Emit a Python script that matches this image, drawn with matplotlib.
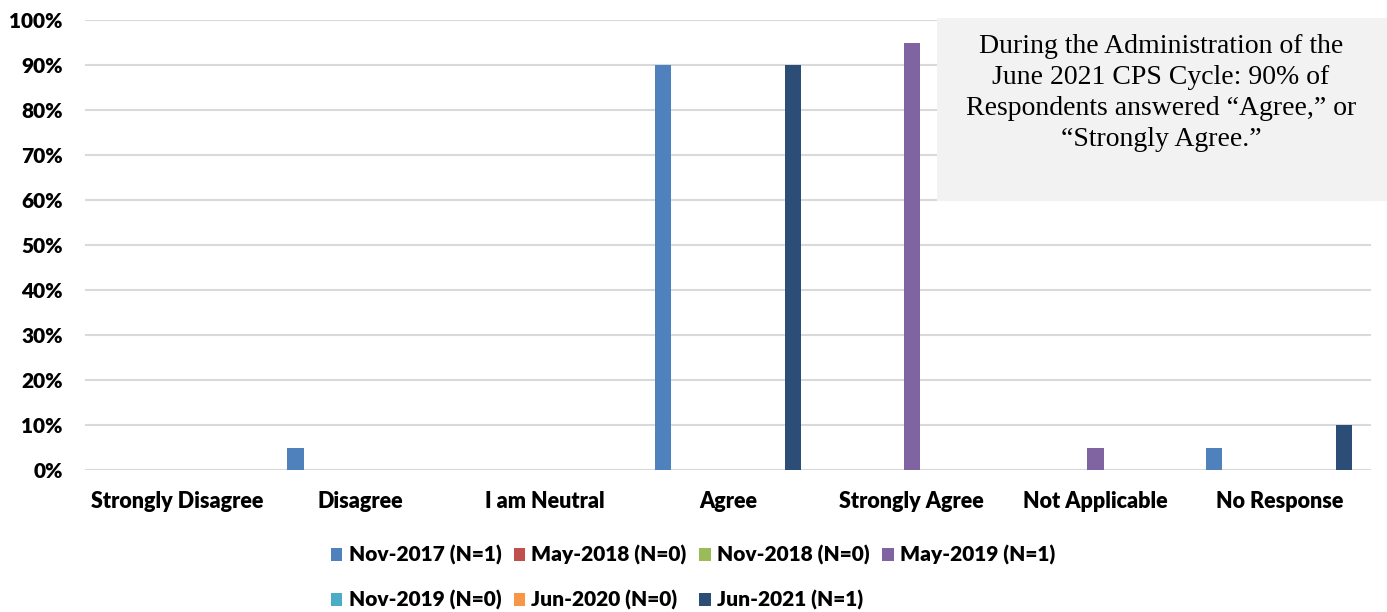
import matplotlib.pyplot as plt
import numpy as np
from matplotlib.patches import Rectangle

plt.rcParams["font.family"] = ["Lato", "DejaVu Sans"]

categories = ["Strongly Disagree", "Disagree", "I am Neutral", "Agree",
              "Strongly Agree", "Not Applicable", "No Response"]
series_names = ["Nov-2017 (N=1)", "May-2018 (N=0)", "Nov-2018 (N=0)", "May-2019 (N=1)",
                "Nov-2019 (N=0)", "Jun-2020 (N=0)", "Jun-2021 (N=1)"]
nov_2017 = [0, 5, 0, 90, 0, 0, 5]
may_2018 = [0, 0, 0, 0, 0, 0, 0]
nov_2018 = [0, 0, 0, 0, 0, 0, 0]
may_2019 = [0, 0, 0, 0, 95, 5, 0]
nov_2019 = [0, 0, 0, 0, 0, 0, 0]
jun_2020 = [0, 0, 0, 0, 0, 0, 0]
jun_2021 = [0, 0, 0, 90, 0, 0, 10]
yticks = [0, 10, 20, 30, 40, 50, 60, 70, 80, 90, 100]

all_series = [nov_2017, may_2018, nov_2018, may_2019, nov_2019, jun_2020, jun_2021]
colors = ["#4F81BD", "#C0504D", "#9BBB59", "#8064A2", "#4BACC6", "#F79646", "#2C4D75"]

fig = plt.figure(figsize=(13.87, 6.12), dpi=100)
ax = fig.add_axes([0.0613, 0.232, 0.9272, 0.735])

x = np.arange(len(categories))
slot = 0.118
handles = []
for i, (vals, name, col) in enumerate(zip(all_series, series_names, colors)):
    b = ax.bar(x + (i - 3) * slot, vals, width=0.088, color=col, label=name, zorder=3)
    handles.append(b)

ax.set_xlim(-0.5, len(categories) - 0.5)
ax.set_ylim(0, 100)
ax.set_yticks(yticks)
ax.set_yticklabels([f"{v}%" for v in yticks], fontsize=15, fontweight="heavy")
ax.set_xticks(x)
ax.set_xticklabels(categories, fontsize=15.5, fontweight="heavy")
ax.tick_params(axis="both", length=0)
ax.tick_params(axis="y", pad=16)
ax.tick_params(axis="x", pad=15)
ax.grid(axis="y", color="#d9d9d9", linewidth=1.5, zorder=0)
for s in ax.spines.values():
    s.set_visible(False)

# legend filled row by row
order = [0, 4, 1, 5, 2, 6, 3]
leg = fig.legend([handles[i] for i in order], [series_names[i] for i in order],
                 ncol=4, loc="upper left", bbox_to_anchor=(0.225, 0.14),
                 frameon=False, prop={"size": 15, "weight": "heavy"},
                 handlelength=0.55, handleheight=0.55, handletextpad=0.3,
                 columnspacing=0.6, labelspacing=1.2)

# annotation box
fig.patches.append(Rectangle((937 / 1387, 1 - 201 / 612), 450 / 1387, 183 / 612,
                             transform=fig.transFigure, facecolor="#f2f2f2",
                             edgecolor="none", zorder=5))
fig.text(1161 / 1387, 1 - 93 / 612,
         "During the Administration of the\nJune 2021 CPS Cycle: 90% of\n"
         "Respondents answered \u201cAgree,\u201d or\n\u201cStrongly Agree.\u201d",
         ha="center", va="center", fontsize=20, family="Liberation Serif",
         linespacing=1.3, zorder=6)

fig.savefig("out.png", dpi=100)
